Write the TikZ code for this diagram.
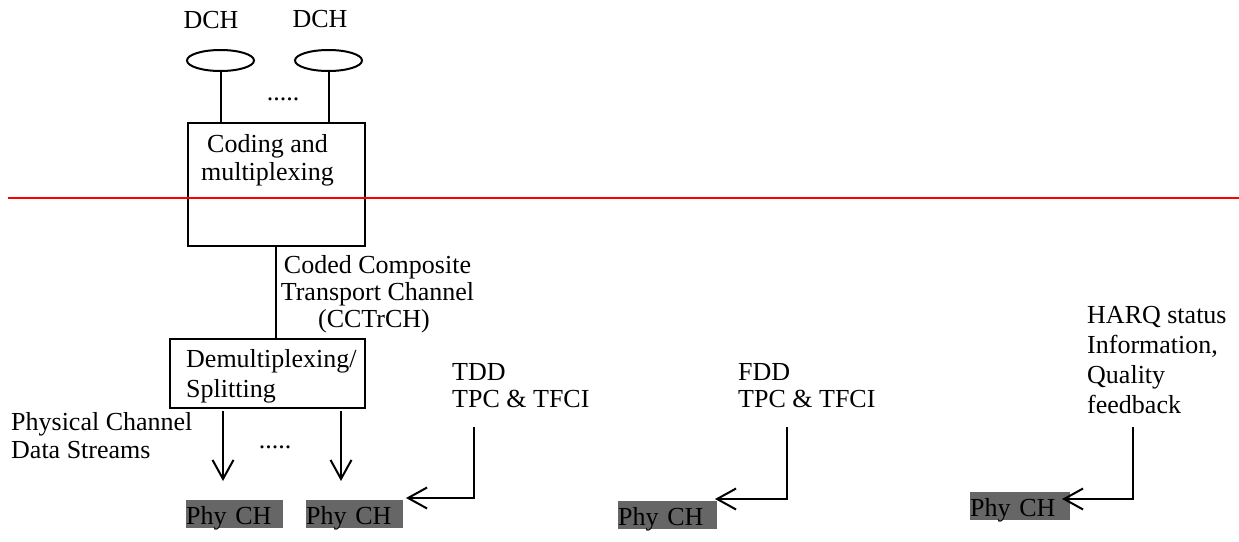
\documentclass[tikz,border=0pt]{standalone}
\usepackage{fontspec}
\setmainfont{Liberation Serif}
\usetikzlibrary{arrows.meta,shapes.geometric}
\begin{document}
\begin{tikzpicture}[x=1pt,y=-1pt,
  lbl/.style={inner sep=0pt,font=\fontsize{26}{29}\selectfont},
  blk/.style={draw,line width=2pt},
  ln/.style={line width=2pt},
  arr/.style={line width=2pt,-{Straight Barb[length=19pt,width=21pt,line width=2pt]}},
  phy/.style={fill=black!60,inner sep=0pt,minimum height=28pt,text depth=0pt,anchor=south west,font=\fontsize{26}{29}\selectfont,align=left,text width=#1,text height=21pt}]
\useasboundingbox (0,0) rectangle (1239,541);
% DCH
\node[lbl,anchor=base] (dch1) at (211,28) {DCH};
\node[lbl,anchor=base] (dch2) at (320,27) {DCH};
\node[draw,ln,ellipse,minimum width=67pt,minimum height=21pt,inner sep=0pt] (e1) at (220.5,60.5) {};
\node[draw,ln,ellipse,minimum width=67pt,minimum height=21pt,inner sep=0pt] (e2) at (328.5,60.5) {};
\node[lbl,anchor=base] (dots1) at (283,100) {.....};
% coding box
\node[blk,minimum width=177pt,minimum height=123pt,anchor=north west,inner sep=0pt] (cod) at (187,122) {};
\node[lbl,anchor=base] (cod1) at (267.5,152) {Coding and};
\node[lbl,anchor=base] (cod2) at (267.5,180) {multiplexing};
\draw[ln] (e1.south) -- (e1.south |- cod.north);
\draw[ln] (e2.south) -- (e2.south |- cod.north);
% red line
\coordinate (r1) at (8,198);
\coordinate (r2) at (1239,198);
\draw[red,line width=2.2pt] (r1) -- (r2);
% demux box
\node[blk,minimum width=195pt,minimum height=69pt,anchor=north west,inner sep=0pt] (dem) at (169,338) {};
\node[lbl,anchor=base west] (dem1) at (186,367) {Demultiplexing/};
\node[lbl,anchor=base west] (dem2) at (186,397) {Splitting};
\draw[ln] (cod.south -| 275.5,0) -- (dem.north -| 275.5,0);
% CCTrCH label
\node[lbl,anchor=base] (cc1) at (377.5,273) {Coded Composite};
\node[lbl,anchor=base] (cc2) at (377.5,300) {Transport Channel};
\node[lbl,anchor=base] (cc3) at (374,327) {(CCTrCH)};
% physical channel data streams
\node[lbl,anchor=base west] (pc1) at (11,430) {Physical Channel};
\node[lbl,anchor=base west] (pc2) at (11,458) {Data Streams};
% Phy CH boxes
\node[phy=97pt] (p1) at (186,528) {Phy CH};
\node[phy=97pt] (p2) at (306,528) {Phy CH};
\node[phy=99pt] (p3) at (618,529) {Phy CH};
\node[phy=100pt] (p4) at (970,520) {Phy CH};
% down arrows
\coordinate (a1) at (223,411);
\coordinate (a2) at (341,411);
\draw[arr] (a1) -- (223,481);
\draw[arr] (a2) -- (341,481);
\node[lbl,anchor=base] (dots2) at (275,448) {.....};
% TDD
\node[lbl,anchor=base west] (tdd1) at (452,380) {TDD};
\node[lbl,anchor=base west] (tdd2) at (452,407) {TPC \& TFCI};
\coordinate (t1) at (474,427);
\draw[arr] (t1) |- (406,498);
% FDD
\node[lbl,anchor=base west] (fdd1) at (738,380) {FDD};
\node[lbl,anchor=base west] (fdd2) at (738,407) {TPC \& TFCI};
\coordinate (f1) at (787,427);
\draw[arr] (f1) |- (715,499);
% HARQ
\node[lbl,anchor=base west] (h1) at (1087,323) {HARQ status};
\node[lbl,anchor=base west] (h2) at (1087,353) {Information,};
\node[lbl,anchor=base west] (h3) at (1087,383) {Quality};
\node[lbl,anchor=base west] (h4) at (1087,413) {feedback};
\coordinate (hq) at (1133,427);
\draw[arr] (hq) |- (1062,499);
\end{tikzpicture}
\end{document}
